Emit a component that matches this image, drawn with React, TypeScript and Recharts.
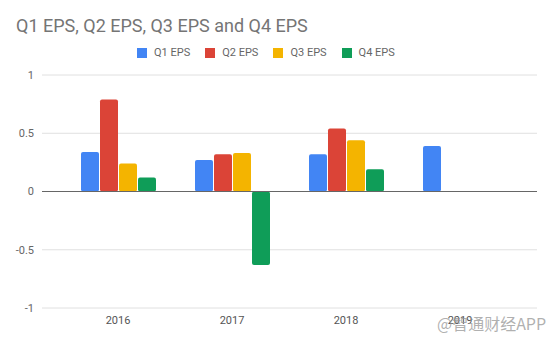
import React from 'react';
import { BarChart, Bar, XAxis, YAxis, CartesianGrid, ReferenceLine } from 'recharts';

const years = ['2016', '2017', '2018', '2019'];
const q1Eps = [0.34, 0.27, 0.32, 0.39];
const q2Eps = [0.79, 0.32, 0.54, null];
const q3Eps = [0.24, 0.33, 0.44, null];
const q4Eps = [0.12, -0.63, 0.19, null];
const yTicks = [-1, -0.5, 0, 0.5, 1];

const seriesNames = ['Q1 EPS', 'Q2 EPS', 'Q3 EPS', 'Q4 EPS'];
const seriesKeys = ['q1', 'q2', 'q3', 'q4'];
const seriesColors = ['#4285F4', '#DB4437', '#F4B400', '#0F9D58'];

const data = years.map((year, i) => ({
    year,
    q1: q1Eps[i],
    q2: q2Eps[i],
    q3: q3Eps[i],
    q4: q4Eps[i],
}));

const font = "Roboto, 'Noto Sans', sans-serif";

const LegendRow: React.FC = () => (
    <div style={{ position: 'absolute', left: 137, top: 46, display: 'flex', alignItems: 'center', fontFamily: font, fontSize: 11, color: '#666' }}>
        {seriesNames.map((name, i) => (
            <div key={name} style={{ display: 'flex', alignItems: 'center', marginRight: 15 }}>
                <span style={{ width: 10, height: 10, background: seriesColors[i], marginRight: 7, display: 'inline-block' }} />
                <span>{name}</span>
            </div>
        ))}
    </div>
);

export default function App() {
    return (
        <div style={{ position: 'absolute', left: 0, top: 0, width: 554, height: 343, background: '#fff', overflow: 'hidden' }}>
            <div style={{ position: 'absolute', left: 16, top: 16, fontFamily: font, fontSize: 18, lineHeight: '20px', color: '#757575' }}>
                Q1 EPS, Q2 EPS, Q3 EPS and Q4 EPS
            </div>
            <LegendRow />
            <BarChart
                width={554}
                height={343}
                data={data}
                margin={{ top: 75, right: 17, bottom: 5, left: 0 }}
                barCategoryGap={20}
                barGap={1}
            >
                <CartesianGrid vertical={false} stroke="#e0e0e0" />
                <XAxis
                    dataKey="year"
                    height={30}
                    axisLine={false}
                    tickLine={false}
                    padding={{ left: 19, right: 20 }}
                    tick={{ fill: '#555', fontSize: 11, fontFamily: font }}
                />
                <YAxis
                    width={42}
                    domain={[-1, 1]}
                    ticks={yTicks}
                    axisLine={false}
                    tickLine={false}
                    tick={{ fill: '#666', fontSize: 11, fontFamily: font }}
                />
                <ReferenceLine y={0} stroke="#666" strokeWidth={1} />
                {seriesKeys.map((key, i) => (
                    <Bar key={key} dataKey={key} name={seriesNames[i]} fill={seriesColors[i]} radius={2} isAnimationActive={false} />
                ))}
            </BarChart>
            <div style={{ position: 'absolute', left: 437, top: 311, fontFamily: "'Noto Sans CJK SC', sans-serif", fontSize: 16, color: 'rgba(150,150,150,0.75)' }}>
                @智通财经APP
            </div>
        </div>
    );
}
